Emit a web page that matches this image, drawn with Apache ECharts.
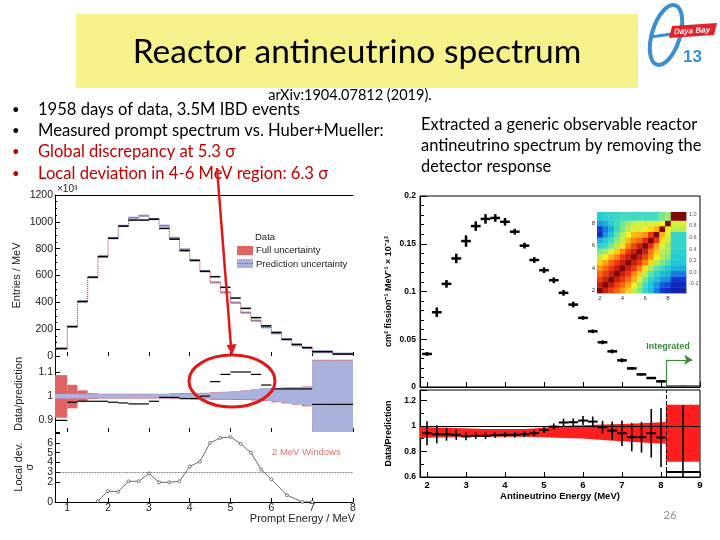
<!DOCTYPE html>
<html>
<head>
<meta charset="utf-8">
<script src="https://cdn.jsdelivr.net/npm/echarts@6/dist/echarts.min.js"></script>
<style>
html, body { margin: 0; padding: 0; background: #fff; }
#main { width: 720px; height: 540px; }
</style>
</head>
<body>
<div id="main"></div>
<script>
// ---- left: measured prompt spectrum, bins in MeV, entries in 10^3 per MeV
const histEdges = [0.7, 1.0, 1.25, 1.5, 1.75, 2.0, 2.25, 2.5, 2.75, 3.0, 3.25, 3.5, 3.75, 4.0, 4.25,
  4.5, 4.75, 5.0, 5.25, 5.5, 5.75, 6.0, 6.25, 6.5, 6.75, 7.0, 7.5, 8.0];
const dataHist = [55, 218, 405, 586, 740, 877, 968, 1013, 1013, 1020, 951, 871, 785, 712, 631,
  591, 512, 432, 355, 286, 225, 176, 124, 87, 62, 32, 15];
const predHist = [57, 222, 410, 590, 745, 880, 970, 1030, 1045, 1020, 971, 880, 795, 715, 633,
  549, 474, 397, 323, 263, 214, 169, 124, 80, 62, 32, 16];
const predErr = [8, 8, 8, 8, 9, 9, 9, 9, 9, 9, 9, 9, 9, 9, 9, 9, 9, 9, 9, 9, 9, 9, 9, 9, 10, 12, 10];

// data / prediction per bin, and full uncertainty box
const ratioData = [0.90, 0.975, 0.979, 0.979, 0.979, 0.975, 0.972, 0.968, 0.968, 0.979, 0.995, 0.995, 0.99,
  0.99, 1.0, 1.06, 1.09, 1.10, 1.10, 1.09, 1.046, 1.03, 1.03, 1.03, 1.03, 0.966, 0.966];
const fullLo = [0.911, 0.95, 0.978, 0.988, 0.99, 0.99, 0.99, 0.99, 0.99, 0.99, 0.99, 0.988, 0.988, 0.987,
  0.987, 0.985, 0.985, 0.984, 0.984, 0.982, 0.98, 0.975, 0.97, 0.965, 0.958, 0.83, 0.83];
const fullHi = [1.087, 1.047, 1.024, 1.012, 1.01, 1.01, 1.01, 1.01, 1.01, 1.01, 1.01, 1.012, 1.013, 1.013,
  1.014, 1.016, 1.018, 1.02, 1.024, 1.028, 1.032, 1.034, 1.036, 1.038, 1.04, 1.15, 1.15];
// prediction uncertainty band in the ratio panel
const predBandE = [0.7, 1.0, 2.0, 3.0, 4.0, 4.5, 5.0, 5.5, 5.75, 6.0, 6.5, 7.0, 7.0, 8.0];
const predBandLo = [0.990, 0.990, 0.991, 0.991, 0.990, 0.989, 0.988, 0.987, 0.985, 0.980, 0.970, 0.958, 0.82, 0.82];
const predBandHi = [1.009, 1.009, 1.008, 1.008, 1.010, 1.013, 1.018, 1.025, 1.033, 1.034, 1.037, 1.040, 1.147, 1.147];

// local deviation, 2 MeV windows
const devE = [1.75, 2.0, 2.25, 2.5, 2.75, 3.0, 3.25, 3.5, 3.75, 4.0, 4.25, 4.5, 4.75, 5.0, 5.25, 5.5, 5.75, 6.0, 6.38, 6.76, 7.0];
const devSig = [0.1, 1.1, 1.05, 2.1, 2.1, 2.9, 2.0, 2.0, 2.1, 3.6, 4.1, 6.0, 6.5, 6.6, 5.9, 5.0, 3.3, 2.3, 0.7, 0.0, 0.0];
const energyTicks = [1, 2, 3, 4, 5, 6, 7, 8];

// ---- right: unfolded antineutrino spectrum (cm2/fission/MeV x 1e-42)
const specE = [2.0, 2.25, 2.5, 2.75, 3.0, 3.25, 3.5, 3.75, 4.0, 4.25, 4.5, 4.75, 5.0, 5.25, 5.5, 5.75,
  6.0, 6.25, 6.5, 6.75, 7.0, 7.25, 7.5, 7.75, 8.0];
const specVal = [0.0346, 0.0783, 0.108, 0.1346, 0.1528, 0.1685, 0.176, 0.177, 0.173, 0.1626, 0.148, 0.133,
  0.1223, 0.1118, 0.0986, 0.0863, 0.0724, 0.0583, 0.0468, 0.0373, 0.0279, 0.0195, 0.0132, 0.0094, 0.0059];
const specErr = [0.002, 0.005, 0.004, 0.005, 0.006, 0.005, 0.005, 0.004, 0.004, 0.003, 0.003, 0.003, 0.003,
  0.003, 0.003, 0.003, 0.002, 0.002, 0.002, 0.002, 0.002, 0.0015, 0.001, 0.001, 0.001];
const integE = [8.125, 9.0];
const integVal = 0.001;
const specRatio = [0.942, 0.934, 0.934, 0.93, 0.917, 0.922, 0.922, 0.927, 0.93, 0.93, 0.934, 0.942, 0.968,
  0.994, 1.026, 1.028, 1.041, 1.033, 0.989, 0.963, 0.942, 0.911, 0.911, 0.942, 0.909];
const specRatioErr = [0.094, 0.07, 0.05, 0.04, 0.03, 0.025, 0.025, 0.022, 0.022, 0.022, 0.022, 0.022, 0.025,
  0.025, 0.03, 0.03, 0.035, 0.04, 0.05, 0.07, 0.1, 0.11, 0.12, 0.19, 0.23];
const integRatio = [0.64, 0.6, 1.16];   // value, low, high
const redBandE = [1.82, 2.5, 3.5, 4.5, 5.0, 5.5, 6.0, 6.5, 7.0, 7.5, 8.125];
const redBandLo = [0.905, 0.91, 0.915, 0.915, 0.91, 0.905, 0.9, 0.89, 0.88, 0.87, 0.86];
const redBandHi = [0.99, 0.985, 0.975, 0.975, 0.985, 1.0, 1.005, 1.01, 1.015, 1.02, 1.03];
const integBand = [0.72, 1.165];

// correlation matrix inset (rows bottom -> top, last bin = integrated)
const corrXEdges = [1.75, 2.25, 2.75, 3.25, 3.75, 4.25, 4.75, 5.25, 5.75, 6.25, 6.75, 7.25, 7.75, 8.25, 9.6];
const corrYEdges = [1.75, 2.25, 2.75, 3.25, 3.75, 4.25, 4.75, 5.25, 5.75, 6.25, 6.75, 7.25, 7.75, 8.25, 9.0];
const corr = [
  [1.00, 0.92, 0.85, 0.80, 0.74, 0.65, 0.52, 0.40, 0.26, 0.18, 0.05, -0.05, -0.08, -0.12],
  [0.92, 1.00, 0.92, 0.85, 0.80, 0.72, 0.60, 0.46, 0.30, 0.20, 0.10, 0.00, -0.02, -0.10],
  [0.85, 0.92, 1.00, 0.92, 0.86, 0.80, 0.70, 0.56, 0.40, 0.25, 0.18, 0.10, 0.08, -0.05],
  [0.80, 0.85, 0.92, 1.00, 0.92, 0.86, 0.76, 0.66, 0.50, 0.35, 0.25, 0.18, 0.15, 0.05],
  [0.74, 0.80, 0.86, 0.92, 1.00, 0.92, 0.86, 0.76, 0.62, 0.46, 0.35, 0.28, 0.22, 0.15],
  [0.65, 0.72, 0.80, 0.86, 0.92, 1.00, 0.92, 0.86, 0.76, 0.64, 0.50, 0.40, 0.32, 0.20],
  [0.52, 0.60, 0.70, 0.76, 0.86, 0.92, 1.00, 0.92, 0.84, 0.74, 0.60, 0.48, 0.42, 0.22],
  [0.40, 0.46, 0.56, 0.66, 0.76, 0.86, 0.92, 1.00, 0.92, 0.78, 0.66, 0.50, 0.46, 0.24],
  [0.26, 0.30, 0.40, 0.50, 0.62, 0.76, 0.84, 0.92, 1.00, 0.88, 0.72, 0.55, 0.46, 0.26],
  [0.15, 0.22, 0.30, 0.42, 0.52, 0.68, 0.76, 0.80, 0.88, 1.00, 0.86, 0.62, 0.52, 0.26],
  [-0.08, 0.08, 0.20, 0.35, 0.48, 0.60, 0.68, 0.70, 0.74, 0.86, 1.00, 0.70, 0.56, 0.26],
  [-0.05, 0.05, 0.15, 0.28, 0.40, 0.50, 0.55, 0.55, 0.58, 0.64, 0.70, 1.00, 0.60, 0.50],
  [0.10, 0.15, 0.22, 0.30, 0.38, 0.46, 0.52, 0.55, 0.52, 0.55, 0.56, 0.60, 1.00, 0.55],
  [0.22, 0.24, 0.26, 0.28, 0.30, 0.30, 0.30, 0.30, 0.30, 0.30, 0.32, 0.40, 0.45, 1.00]
];

const plotFont = 'Liberation Sans';
const slideFont = 'Lato';

// ---- render helpers for the custom series
function rectItem(fill) { // [x0, x1, y0, y1]
  return function (params, api) {
    const p0 = api.coord([api.value(0), api.value(3)]);
    const p1 = api.coord([api.value(1), api.value(2)]);
    return { type: 'rect', shape: { x: p0[0], y: p0[1], width: p1[0] - p0[0], height: p1[1] - p0[1] }, style: { fill: fill } };
  };
}
function segItem(color, width) { // [x0, x1, y]
  return function (params, api) {
    const a = api.coord([api.value(0), api.value(2)]);
    const b = api.coord([api.value(1), api.value(2)]);
    return { type: 'line', shape: { x1: a[0], y1: a[1], x2: b[0], y2: b[1] }, style: { stroke: color, lineWidth: width } };
  };
}
function polyItem(xs, los, his, fill) {
  return function (params, api) {
    if (params.dataIndex !== 0) return null;
    const pts = [];
    for (let i = 0; i < xs.length; i++) pts.push(api.coord([xs[i], los[i]]));
    for (let i = xs.length - 1; i >= 0; i--) pts.push(api.coord([xs[i], his[i]]));
    return { type: 'polygon', shape: { points: pts }, style: { fill: fill } };
  };
}
function crossItem(color, hw, vw) { // [x, y, xlo, xhi, ylo, yhi]
  return function (params, api) {
    const x = api.value(0), y = api.value(1);
    const a = api.coord([api.value(2), y]), b = api.coord([api.value(3), y]);
    const c = api.coord([x, api.value(4)]), d = api.coord([x, api.value(5)]);
    return {
      type: 'group', children: [
        { type: 'line', shape: { x1: a[0], y1: a[1], x2: b[0], y2: b[1] }, style: { stroke: color, lineWidth: hw } },
        { type: 'line', shape: { x1: c[0], y1: c[1], x2: d[0], y2: d[1] }, style: { stroke: color, lineWidth: vw } }
      ]
    };
  };
}
function cellItem(params, api) {
  const p0 = api.coord([api.value(0), api.value(3)]);
  const p1 = api.coord([api.value(1), api.value(2)]);
  return { type: 'rect', shape: { x: p0[0], y: p0[1], width: p1[0] - p0[0] + 0.4, height: p1[1] - p0[1] + 0.4 }, style: { fill: api.visual('color') } };
}

// ---- build series data
const bins = dataHist.map((v, i) => i);
const predBoxData = bins.map(i => [histEdges[i], histEdges[i + 1], predHist[i] - predErr[i], predHist[i] + predErr[i]]);
const predStep = histEdges.map((e, i) => [e, predHist[Math.min(i, predHist.length - 1)]]);
const dataSegData = bins.map(i => [histEdges[i], histEdges[i + 1], dataHist[i]]);
const fullBoxData = bins.map(i => [histEdges[i], histEdges[i + 1], fullLo[i], fullHi[i]]);
const ratioSegData = bins.map(i => [histEdges[i], histEdges[i + 1], ratioData[i]]);
const devData = devE.map((e, i) => [e, devSig[i]]);

const specData = specE.map((e, i) => [e, specVal[i], e - 0.125, e + 0.125, specVal[i] - specErr[i], specVal[i] + specErr[i]]);
const integCenter = (integE[0] + integE[1]) / 2;
const specRatioData = specE.map((e, i) => [e, specRatio[i], e - 0.125, e + 0.125, specRatio[i] - specRatioErr[i], specRatio[i] + specRatioErr[i]]);

const heatData = [];
corr.forEach((row, r) => row.forEach((v, c) => {
  heatData.push([corrXEdges[c], corrXEdges[c + 1], corrYEdges[r], corrYEdges[r + 1], v]);
}));

// ---- axes
function leftX(gridIndex, showLabels) {
  return {
    type: 'value', gridIndex: gridIndex, min: 0.7, max: 8,
    axisLine: { show: showLabels, lineStyle: { color: '#000', width: 1 } },
    axisTick: { show: true, inside: true, length: 4, customValues: energyTicks, lineStyle: { color: '#000' } },
    axisLabel: { show: showLabels, customValues: energyTicks, fontSize: 10.5, color: '#222', fontFamily: plotFont, margin: 1 },
    splitLine: { show: false }
  };
}
function rightX(gridIndex, showLabels) {
  return {
    type: 'value', gridIndex: gridIndex, min: 1.82, max: 9,
    axisLine: { show: true, lineStyle: { color: '#000' } },
    axisTick: { show: true, inside: true, length: 5, customValues: [2, 3, 4, 5, 6, 7, 8, 9], lineStyle: { color: '#000' } },
    axisLabel: { show: showLabels, customValues: [2, 3, 4, 5, 6, 7, 8, 9], fontSize: 9.5, fontWeight: 'bold', color: '#000', fontFamily: plotFont, margin: 3 },
    splitLine: { show: false },
    name: showLabels ? 'Antineutrino Energy (MeV)' : '', nameLocation: 'middle', nameGap: 14,
    nameTextStyle: { fontSize: 9.5, fontWeight: 'bold', color: '#000', fontFamily: plotFont }
  };
}
const leftYLabel = { fontSize: 10.5, color: '#222', fontFamily: plotFont, margin: 2, formatter: v => String(v) };
const leftYName = { fontSize: 11, color: '#222', fontFamily: plotFont };
const rightYLabel = { fontSize: 8.5, fontWeight: 'bold', color: '#000', fontFamily: plotFont, margin: 4, formatter: v => String(v) };
const rightYName = { fontSize: 9, fontWeight: 'bold', color: '#000', fontFamily: plotFont };

const option = {
  animation: false,
  backgroundColor: '#fff',
  grid: [
    { left: 55, top: 195, width: 298, height: 161, outerBoundsMode: 'none' },
    { left: 55, top: 356, width: 298, height: 76, outerBoundsMode: 'none' },
    { left: 55, top: 432, width: 298, height: 70, outerBoundsMode: 'none' },
    { left: 420, top: 196, width: 280, height: 191, show: true, borderColor: '#000', borderWidth: 1, outerBoundsMode: 'none' },
    { left: 420, top: 390, width: 280, height: 87, show: true, borderColor: '#000', borderWidth: 1, outerBoundsMode: 'none' },
    { left: 597, top: 212, width: 89, height: 81, outerBoundsMode: 'none' }
  ],
  xAxis: [
    leftX(0, false),
    leftX(1, false),
    leftX(2, true),
    rightX(3, false),
    rightX(4, true),
    {
      type: 'value', gridIndex: 5, min: 1.75, max: 9.6,
      axisLine: { show: false }, axisTick: { show: false }, splitLine: { show: false },
      axisLabel: { customValues: [2, 4, 6, 8], fontSize: 6, color: '#333', fontFamily: plotFont, margin: 2 }
    },
    {
      type: 'value', gridIndex: 0, position: 'top', min: 0.7, max: 8,
      axisLine: { show: true, lineStyle: { color: '#000' } }, axisTick: { show: false },
      axisLabel: { show: false }, splitLine: { show: false }
    }
  ],
  yAxis: [
    {
      type: 'value', gridIndex: 0, min: 0, max: 1200, interval: 200,
      axisLine: { show: true, lineStyle: { color: '#000' } },
      axisTick: { show: true, inside: true, length: 5, lineStyle: { color: '#000' } },
      minorTick: { show: true, splitNumber: 4, length: 2, lineStyle: { color: '#000' } },
      axisLabel: leftYLabel, splitLine: { show: false },
      name: 'Entries / MeV', nameLocation: 'middle', nameGap: 33, nameTextStyle: leftYName
    },
    {
      type: 'value', gridIndex: 1, min: 0.852, max: 1.166,
      axisLine: { show: true, lineStyle: { color: '#000' } },
      axisTick: { show: true, inside: true, length: 5, customValues: [0.9, 1, 1.1], lineStyle: { color: '#000' } },
      axisLabel: Object.assign({}, leftYLabel, { customValues: [0.9, 1, 1.1] }), splitLine: { show: false },
      name: 'Data/prediction', nameLocation: 'middle', nameGap: 31, nameTextStyle: leftYName
    },
    {
      type: 'value', gridIndex: 2, min: 0, max: 7.1, interval: 1,
      axisLine: { show: true, lineStyle: { color: '#000' } },
      axisTick: { show: true, inside: true, length: 5, lineStyle: { color: '#000' } },
      axisLabel: Object.assign({}, leftYLabel, { showMinLabel: true, formatter: v => (v > 6.5 ? '' : String(v)) }),
      splitLine: { show: false },
      name: 'Local dev.\nσ', nameLocation: 'middle', nameGap: 20, nameTextStyle: leftYName
    },
    {
      type: 'value', gridIndex: 3, min: 0, max: 0.2, interval: 0.05,
      axisLine: { show: true, lineStyle: { color: '#000' } },
      axisTick: { show: true, inside: true, length: 7, lineStyle: { color: '#000' } },
      minorTick: { show: true, splitNumber: 5, length: 4, lineStyle: { color: '#000' } },
      axisLabel: rightYLabel, splitLine: { show: false },
      name: 'cm² fission⁻¹ MeV⁻¹ × 10⁻⁴²', nameLocation: 'middle', nameGap: 27, nameTextStyle: rightYName
    },
    {
      type: 'value', gridIndex: 4, min: 0.6, max: 1.28, interval: 0.2,
      axisLine: { show: true, lineStyle: { color: '#000' } },
      axisTick: { show: true, inside: true, length: 7, lineStyle: { color: '#000' } },
      minorTick: { show: true, splitNumber: 2, length: 4, lineStyle: { color: '#000' } },
      axisLabel: Object.assign({}, rightYLabel, { showMaxLabel: false, formatter: v => (v > 1.25 ? '' : String(Math.round(v * 10) / 10)) }),
      splitLine: { show: false },
      name: 'Data/Prediction', nameLocation: 'middle', nameGap: 27, nameTextStyle: rightYName
    },
    {
      type: 'value', gridIndex: 5, min: 1.75, max: 9.0,
      axisLine: { show: false }, axisTick: { show: false }, splitLine: { show: false },
      axisLabel: { customValues: [2, 4, 6, 8], fontSize: 6, color: '#333', fontFamily: plotFont, margin: 2 }
    },
    {
      type: 'value', gridIndex: 5, position: 'right', min: -0.36, max: 1.04,
      axisLine: { show: false }, axisTick: { show: false }, splitLine: { show: false },
      axisLabel: {
        customValues: [-0.2, 0, 0.2, 0.4, 0.6, 0.8, 1.0], fontSize: 5.5, color: '#555', fontFamily: plotFont, margin: 3,
        formatter: v => v.toFixed(1)
      }
    }
  ],
  visualMap: [{
    show: false, seriesIndex: 12, dimension: 4, min: -0.2, max: 1.0,
    inRange: { color: ['#10107f', '#1030d0', '#1a88e0', '#20c8d8', '#50e0b8', '#a8ec60', '#f8f020', '#ff9a10', '#f03010', '#800808'] }
  }],
  series: [
    // 0 left top: prediction uncertainty boxes
    { type: 'custom', xAxisIndex: 0, yAxisIndex: 0, renderItem: rectItem('#a9b1dd'), data: predBoxData, z: 2 },
    // 1 left top: prediction step line
    {
      type: 'line', xAxisIndex: 0, yAxisIndex: 0, step: 'end', data: predStep, symbol: 'none', z: 3,
      lineStyle: { color: '#9c2a48', width: 1, type: 'dotted' }
    },
    // 2 left top: data
    { type: 'custom', xAxisIndex: 0, yAxisIndex: 0, renderItem: segItem('#000', 1.5), data: dataSegData, z: 4 },
    // 3 left ratio: full uncertainty
    { type: 'custom', xAxisIndex: 1, yAxisIndex: 1, renderItem: rectItem('#e06464'), data: fullBoxData, clip: true, z: 2 },
    // 4 left ratio: prediction band
    {
      type: 'custom', xAxisIndex: 1, yAxisIndex: 1, clip: true, z: 3,
      renderItem: polyItem(predBandE, predBandLo, predBandHi, '#a9b1dd'),
      data: predBandE.map((e, i) => [e, predBandLo[i], predBandHi[i]])
    },
    // 5 left ratio: data
    { type: 'custom', xAxisIndex: 1, yAxisIndex: 1, renderItem: segItem('#000', 1.2), data: ratioSegData, clip: true, z: 4 },
    // 6 left local deviation
    {
      type: 'line', xAxisIndex: 2, yAxisIndex: 2, data: devData, symbol: 'circle', symbolSize: 3,
      lineStyle: { color: '#444', width: 0.8 }, itemStyle: { color: '#fff', borderColor: '#444', borderWidth: 0.7 },
      markLine: {
        silent: true, symbol: ['none', 'none'], label: { show: false },
        lineStyle: { color: '#333', width: 0.8, type: 'dotted' }, data: [{ yAxis: 3 }]
      }
    },
    // 7 right top: unfolded spectrum
    { type: 'custom', xAxisIndex: 3, yAxisIndex: 3, renderItem: crossItem('#000', 2.5, 2.5), data: specData, z: 4 },
    // 8 right top: integrated bin
    {
      type: 'custom', xAxisIndex: 3, yAxisIndex: 3, renderItem: crossItem('#444', 1.5, 2.5), z: 4,
      data: [[integCenter, integVal, integE[0], integE[1], integVal - 0.0008, integVal + 0.0008]],
      markLine: {
        silent: true, symbol: ['none', 'arrow'], symbolSize: 8, label: { show: false },
        lineStyle: { color: '#3a8a3a', width: 1.2, type: 'solid' },
        data: [
          [{ coord: [integE[0], 0.0005], symbol: 'none' }, { coord: [integE[0], 0.0285], symbol: 'none' }],
          [{ coord: [integE[0], 0.0285], symbol: 'none' }, { coord: [8.8, 0.0285] }]
        ]
      }
    },
    // 9 right ratio: prediction band
    {
      type: 'custom', xAxisIndex: 4, yAxisIndex: 4, z: 2, clip: true,
      renderItem: polyItem(redBandE, redBandLo, redBandHi, '#ff1e1e'),
      data: redBandE.map((e, i) => [e, redBandLo[i], redBandHi[i]])
    },
    // 10 right ratio: integrated band
    {
      type: 'custom', xAxisIndex: 4, yAxisIndex: 4, z: 2, renderItem: rectItem('#ff1e1e'),
      data: [[integE[0], integE[1], integBand[0], integBand[1]]]
    },
    // 11 right ratio: data points
    {
      type: 'custom', xAxisIndex: 4, yAxisIndex: 4, renderItem: crossItem('#000', 2, 1.6), z: 4, clip: true,
      data: specRatioData.concat([[integCenter, integRatio[0], integE[0], integE[1], integRatio[1], integRatio[2]]]),
      markLine: {
        silent: true, symbol: ['none', 'none'], label: { show: false },
        lineStyle: { color: '#000', width: 1, type: 'solid' },
        data: [{ yAxis: 1 }, { xAxis: integE[0], lineStyle: { type: 'dashed', color: '#000', width: 1 } }]
      }
    },
    // 12 correlation matrix inset
    { type: 'custom', xAxisIndex: 5, yAxisIndex: 5, renderItem: cellItem, data: heatData, z: 5 }
  ],
  graphic: [
    // title
    { type: 'rect', shape: { x: 76, y: 14, width: 562, height: 74 }, style: { fill: '#f6f28b' }, z: 0 },
    { type: 'text', x: 357, y: 52, style: { text: 'Reactor antineutrino spectrum', font: '33.5px ' + slideFont, fill: '#000', textAlign: 'center', textVerticalAlign: 'middle' } },
    { type: 'text', x: 350, y: 95, style: { text: 'arXiv:1904.07812 (2019).', font: '14.5px ' + slideFont, fill: '#000', textAlign: 'center', textVerticalAlign: 'middle' } },
    // logo
    { type: 'ellipse', x: 666, y: 35, rotation: -0.3, shape: { cx: 0, cy: 0, rx: 14, ry: 31 }, style: { stroke: '#3b8fd0', lineWidth: 4, fill: 'none' } },
    { type: 'line', shape: { x1: 650, y1: 37, x2: 672, y2: 34 }, style: { stroke: '#3b8fd0', lineWidth: 3 } },
    { type: 'polygon', shape: { points: [[672, 26], [717, 23], [714, 35], [669, 38]] }, style: { fill: '#e8202a' } },
    { type: 'text', x: 692, y: 31, rotation: 0.06, style: { text: 'Daya Bay', font: 'italic bold 8px ' + plotFont, fill: '#fff', textAlign: 'center', textVerticalAlign: 'middle' } },
    { type: 'text', x: 683, y: 57, style: { text: '13', font: 'bold 17px ' + plotFont, fill: '#3b8fd0', textVerticalAlign: 'middle' } },
    // bullets
    { type: 'text', x: 12, y: 110, style: { text: '•', font: '13px ' + slideFont, fill: '#000', textVerticalAlign: 'middle' } },
    { type: 'text', x: 12, y: 131, style: { text: '•', font: '13px ' + slideFont, fill: '#000', textVerticalAlign: 'middle' } },
    { type: 'text', x: 12, y: 152, style: { text: '•', font: '13px ' + slideFont, fill: '#c00000', textVerticalAlign: 'middle' } },
    { type: 'text', x: 12, y: 174, style: { text: '•', font: '13px ' + slideFont, fill: '#c00000', textVerticalAlign: 'middle' } },
    { type: 'text', x: 38, y: 110, style: { text: '1958 days of data, 3.5M IBD events', font: '16.6px ' + slideFont, fill: '#000', textVerticalAlign: 'middle' } },
    { type: 'text', x: 38, y: 131, style: { text: 'Measured prompt spectrum vs. Huber+Mueller:', font: '16.6px ' + slideFont, fill: '#000', textVerticalAlign: 'middle' } },
    { type: 'text', x: 38, y: 152, style: { text: 'Global discrepancy at 5.3 σ', font: '16.6px ' + slideFont, fill: '#c00000', textVerticalAlign: 'middle' } },
    { type: 'text', x: 38, y: 174, style: { text: 'Local deviation in 4-6 MeV region: 6.3 σ', font: '16.6px ' + slideFont, fill: '#c00000', textVerticalAlign: 'middle' } },
    { type: 'text', x: 421, y: 125, style: { text: 'Extracted a generic observable reactor', font: '16.4px ' + slideFont, fill: '#000', textVerticalAlign: 'middle' } },
    { type: 'text', x: 421, y: 146, style: { text: 'antineutrino spectrum by removing the', font: '16.4px ' + slideFont, fill: '#000', textVerticalAlign: 'middle' } },
    { type: 'text', x: 421, y: 167, style: { text: 'detector response', font: '16.4px ' + slideFont, fill: '#000', textVerticalAlign: 'middle' } },
    // left plot extras
    { type: 'text', x: 57, y: 189, style: { text: '×10³', font: '10px ' + plotFont, fill: '#222', textVerticalAlign: 'middle' } },
    { type: 'text', x: 255, y: 237, style: { text: 'Data', font: '9.5px ' + plotFont, fill: '#222', textVerticalAlign: 'middle' } },
    { type: 'rect', shape: { x: 237, y: 246, width: 16, height: 9 }, style: { fill: '#e06464' } },
    { type: 'text', x: 256, y: 250, style: { text: 'Full uncertainty', font: '9.5px ' + plotFont, fill: '#222', textVerticalAlign: 'middle' } },
    { type: 'rect', shape: { x: 237, y: 259, width: 16, height: 9 }, style: { fill: '#a9b1dd' } },
    { type: 'line', shape: { x1: 237, y1: 263.5, x2: 253, y2: 263.5 }, style: { stroke: '#9c2a48', lineWidth: 1, lineDash: [1, 1.5] } },
    { type: 'text', x: 256, y: 264, style: { text: 'Prediction uncertainty', font: '9.5px ' + plotFont, fill: '#222', textVerticalAlign: 'middle' } },
    { type: 'text', x: 272, y: 452, style: { text: '2 MeV Windows', font: '9.5px ' + plotFont, fill: '#d87070', textVerticalAlign: 'middle' } },
    { type: 'text', x: 355, y: 519, style: { text: 'Prompt Energy / MeV', font: '11px ' + plotFont, fill: '#222', textAlign: 'right', textVerticalAlign: 'middle' } },
    // annotation: arrow and ellipse
    { type: 'line', shape: { x1: 217, y1: 168, x2: 231, y2: 347 }, style: { stroke: '#e01818', lineWidth: 2.5 }, z: 10 },
    { type: 'polygon', shape: { points: [[232, 355], [226.5, 345], [236.5, 344]] }, style: { fill: '#e01818' }, z: 10 },
    { type: 'ellipse', shape: { cx: 232, cy: 381, rx: 43, ry: 26 }, style: { stroke: '#e01818', lineWidth: 3, fill: 'none' }, z: 10 },
    // right plot extras
    { type: 'text', x: 668, y: 347, style: { text: 'Integrated', font: 'bold 9px ' + plotFont, fill: '#3a8a3a', textAlign: 'center', textVerticalAlign: 'middle' } },
    { type: 'text', x: 670, y: 515, style: { text: '26', font: '11px ' + slideFont, fill: '#8c8c8c', textAlign: 'center', textVerticalAlign: 'middle' } }
  ]
};

const chart = echarts.init(document.getElementById('main'));
chart.setOption(option);
</script>
</body>
</html>
